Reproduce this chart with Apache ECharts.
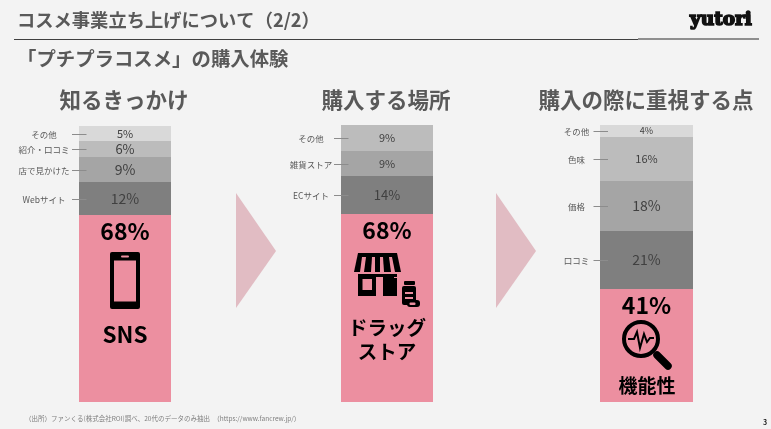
<!DOCTYPE html>
<html>
<head>
<meta charset="utf-8">
<title>プチプラコスメの購入体験</title>
<script src="https://cdn.jsdelivr.net/npm/echarts@6/dist/echarts.min.js"></script>
<style>
  html, body { margin: 0; padding: 0; background: #f3f3f3; }
  #chart { width: 771px; height: 429px; }
</style>
</head>
<body>
<div id="chart"></div>
<script>
// values, bottom segment first; labels show them rounded
const knowLabels = ['SNS', 'Webサイト', '店で見かけた', '紹介・口コミ', 'その他']
const knowValues = [67.75, 11.95, 9.05, 5.8, 5.45]
const placeLabels = ['ドラッグストア', 'ECサイト', '雑貨ストア', 'その他']
const placeValues = [67.9, 13.7, 9.0, 9.4]
const pointLabels = ['機能性', '口コミ', '価格', '色味', 'その他']
const pointValues = [40.8, 20.9, 18.05, 15.9, 4.35]

const FONT = '"Noto Sans CJK JP", "Noto Sans", sans-serif'
const GREY_TEXT = '#595959'
const PINK = '#ec8fa0'
const ARROW = '#e1bcc3'

// one panel per stacked column
const panels = [
  { labels: knowLabels, values: knowValues, left: 79, width: 92, top: 126, title: '知るきっかけ', titleX: 124,
    colors: [PINK, '#7f7f7f', '#a5a5a5', '#bcbcbc', '#d9d9d9'], sizes: [23, 14, 14, 13, 11], labelOffset: 81 },
  { labels: placeLabels, values: placeValues, left: 341, width: 92, top: 125, title: '購入する場所', titleX: 386,
    colors: [PINK, '#7f7f7f', '#a5a5a5', '#bcbcbc'], sizes: [23, 13, 11, 11], labelOffset: 76 },
  { labels: pointLabels, values: pointValues, left: 600, width: 93, top: 125, title: '購入の際に重視する点', titleX: 646,
    colors: [PINK, '#7f7f7f', '#a5a5a5', '#bcbcbc', '#d9d9d9'], sizes: [23, 14, 14, 11, 9], labelOffset: 70 }
]

const grids = []
const xAxes = []
const yAxes = []
const series = []

panels.forEach((p, i) => {
  grids.push({ left: p.left, width: p.width, top: p.top, height: 402 - p.top })
  xAxes.push({ type: 'category', gridIndex: i, data: [p.title], show: false })
  yAxes.push({ type: 'value', gridIndex: i, min: 0, max: 100, show: false })

  p.values.forEach((v, j) => {
    const isMain = j === 0
    series.push({
      type: 'bar',
      name: p.labels[j],
      stack: 'panel' + i,
      xAxisIndex: i,
      yAxisIndex: i,
      barWidth: '100%',
      itemStyle: { color: p.colors[j] },
      label: {
        show: true,
        position: isMain ? 'insideTop' : 'inside',
        distance: 5,
        formatter: (params) => Math.round(params.value) + '%',
        fontFamily: FONT,
        fontSize: p.sizes[j],
        fontWeight: isMain ? 'bold' : 'normal',
        color: isMain ? '#000000' : '#404040'
      },
      silent: true,
      data: [v]
    })
  })

  // side labels with leader lines, sitting on the middle of each grey segment
  const mids = []
  let acc = 0
  p.values.forEach((v, j) => {
    if (j > 0) mids.push({ name: p.labels[j], value: [0, acc + v / 2] })
    acc += v
  })
  series.push({
    type: 'custom',
    xAxisIndex: i,
    yAxisIndex: i,
    silent: true,
    z: 5,
    data: mids,
    renderItem: (params, api) => {
      const pt = api.coord([api.value(0), api.value(1)])
      const y = Math.round(pt[1]) + 0.5
      return {
        type: 'group',
        children: [
          { type: 'line', shape: { x1: pt[0] - 53, y1: y, x2: pt[0] - 38.5, y2: y },
            style: { stroke: '#8c8c8c', lineWidth: 1 } },
          { type: 'text', x: pt[0] - p.labelOffset, y: y,
            style: { text: mids[params.dataIndex].name, fontFamily: FONT, fontSize: 8.5,
              fill: '#595959', align: 'center', verticalAlign: 'middle' } }
        ]
      }
    }
  })
})

const text = (x, y, str, size, weight, fill, align) => ({
  type: 'text', x, y, silent: true, z: 10,
  style: { text: str, fontFamily: FONT, fontSize: size, fontWeight: weight, fill,
    align: align || 'left', verticalAlign: 'middle' }
})
const box = (x, y, width, height, fill, r) => ({
  type: 'rect', silent: true, z: 10, shape: { x, y, width, height, r: r || 0 }, style: { fill }
})
const poly = (points, fill) => ({
  type: 'polygon', silent: true, z: 10, shape: { points }, style: { fill }
})

const graphics = [
  text(17, 20, 'コスメ事業立ち上げについて（2/2）', 18.3, 'bold', GREY_TEXT),
  { type: 'line', silent: true, shape: { x1: 14, y1: 39.5, x2: 638, y2: 39.5 }, style: { stroke: '#404040', lineWidth: 1 } },
  { type: 'line', silent: true, shape: { x1: 638, y1: 39, x2: 759, y2: 39 }, style: { stroke: '#6e6e6e', lineWidth: 1.5 } },
  text(17, 59, '「プチプラコスメ」の購入体験', 19.4, 'bold', GREY_TEXT),
  { type: 'text', x: 690, y: 20, silent: true, z: 10,
    style: { text: 'yutori', fontFamily: '"DejaVu Serif", serif', fontSize: 18.5, fontWeight: 'bold', fill: '#111111',
      stroke: '#111111', lineWidth: 1.6, verticalAlign: 'middle' } },
  text(25, 419, '（出所）ファンくる(株式会社ROI)調べ、20代のデータのみ抽出　（https://www.fancrew.jp/）', 6.5, 'normal', '#7f7f7f'),
  text(763, 422, '3', 7, 'bold', '#222222'),

  // arrows
  poly([[236, 193], [276, 251], [236, 308]], ARROW),
  poly([[496, 193], [536, 251], [496, 308]], ARROW),

  // words inside the pink segments
  text(125, 334, 'SNS', 22.5, 'bold', '#000000', 'center'),
  text(387, 328, 'ドラッグ', 19.5, 'bold', '#000000', 'center'),
  text(387, 352, 'ストア', 19.5, 'bold', '#000000', 'center'),
  text(647, 386, '機能性', 19, 'bold', '#000000', 'center'),

  // phone icon
  box(110, 252, 30, 57, '#000000', 2),
  box(114, 260.5, 22, 41, PINK),
  box(121, 255.5, 8, 2, PINK, 1),

  // store icon
  poly([[358, 253], [397, 253], [401, 272], [354, 272]], '#000000'),
  poly([[362, 257], [366, 257], [364, 272], [360, 272]], PINK),
  poly([[372, 257], [375, 257], [375, 272], [371, 272]], PINK),
  poly([[380, 257], [383, 257], [384, 272], [380, 272]], PINK),
  poly([[389, 257], [392, 257], [395, 272], [391, 272]], PINK),
  box(358, 274, 39, 22, '#000000'),
  box(362.5, 279, 9.5, 11, PINK),
  box(376, 274, 10, 3, '#000000'),
  box(376, 277, 7, 19, PINK),
  box(394, 277, 3, 1, PINK),

  // bottle and pill
  box(404, 281, 11, 4, '#000000', 1),
  box(402, 286, 14, 19, '#000000', 2),
  box(405, 292, 8, 2, PINK),
  box(405, 297, 8, 2, PINK),
  box(407, 300, 13, 7, '#000000', 3),
  box(409.5, 302.5, 6, 2.5, PINK, 1),

  // magnifier icon
  { type: 'circle', silent: true, z: 10, shape: { cx: 641, cy: 339, r: 17 },
    style: { fill: 'none', stroke: '#000000', lineWidth: 4 } },
  { type: 'line', silent: true, z: 10, shape: { x1: 657, y1: 355, x2: 668, y2: 366 },
    style: { stroke: '#000000', lineWidth: 7.5, lineCap: 'round' } },
  { type: 'polyline', silent: true, z: 10,
    shape: { points: [[628, 339], [634, 339], [637, 332], [640, 348], [644, 334], [647, 342], [650, 338], [654, 338]] },
    style: { fill: 'none', stroke: '#000000', lineWidth: 2 } }
]

panels.forEach(p => {
  graphics.push(text(p.titleX, 100, p.title, 21.5, 'bold', GREY_TEXT, 'center'))
})

const chart = echarts.init(document.getElementById('chart'), null, { renderer: 'canvas' })
chart.setOption({
  backgroundColor: '#f3f3f3',
  animation: false,
  grid: grids,
  xAxis: xAxes,
  yAxis: yAxes,
  series,
  graphic: graphics
})
</script>
</body>
</html>
